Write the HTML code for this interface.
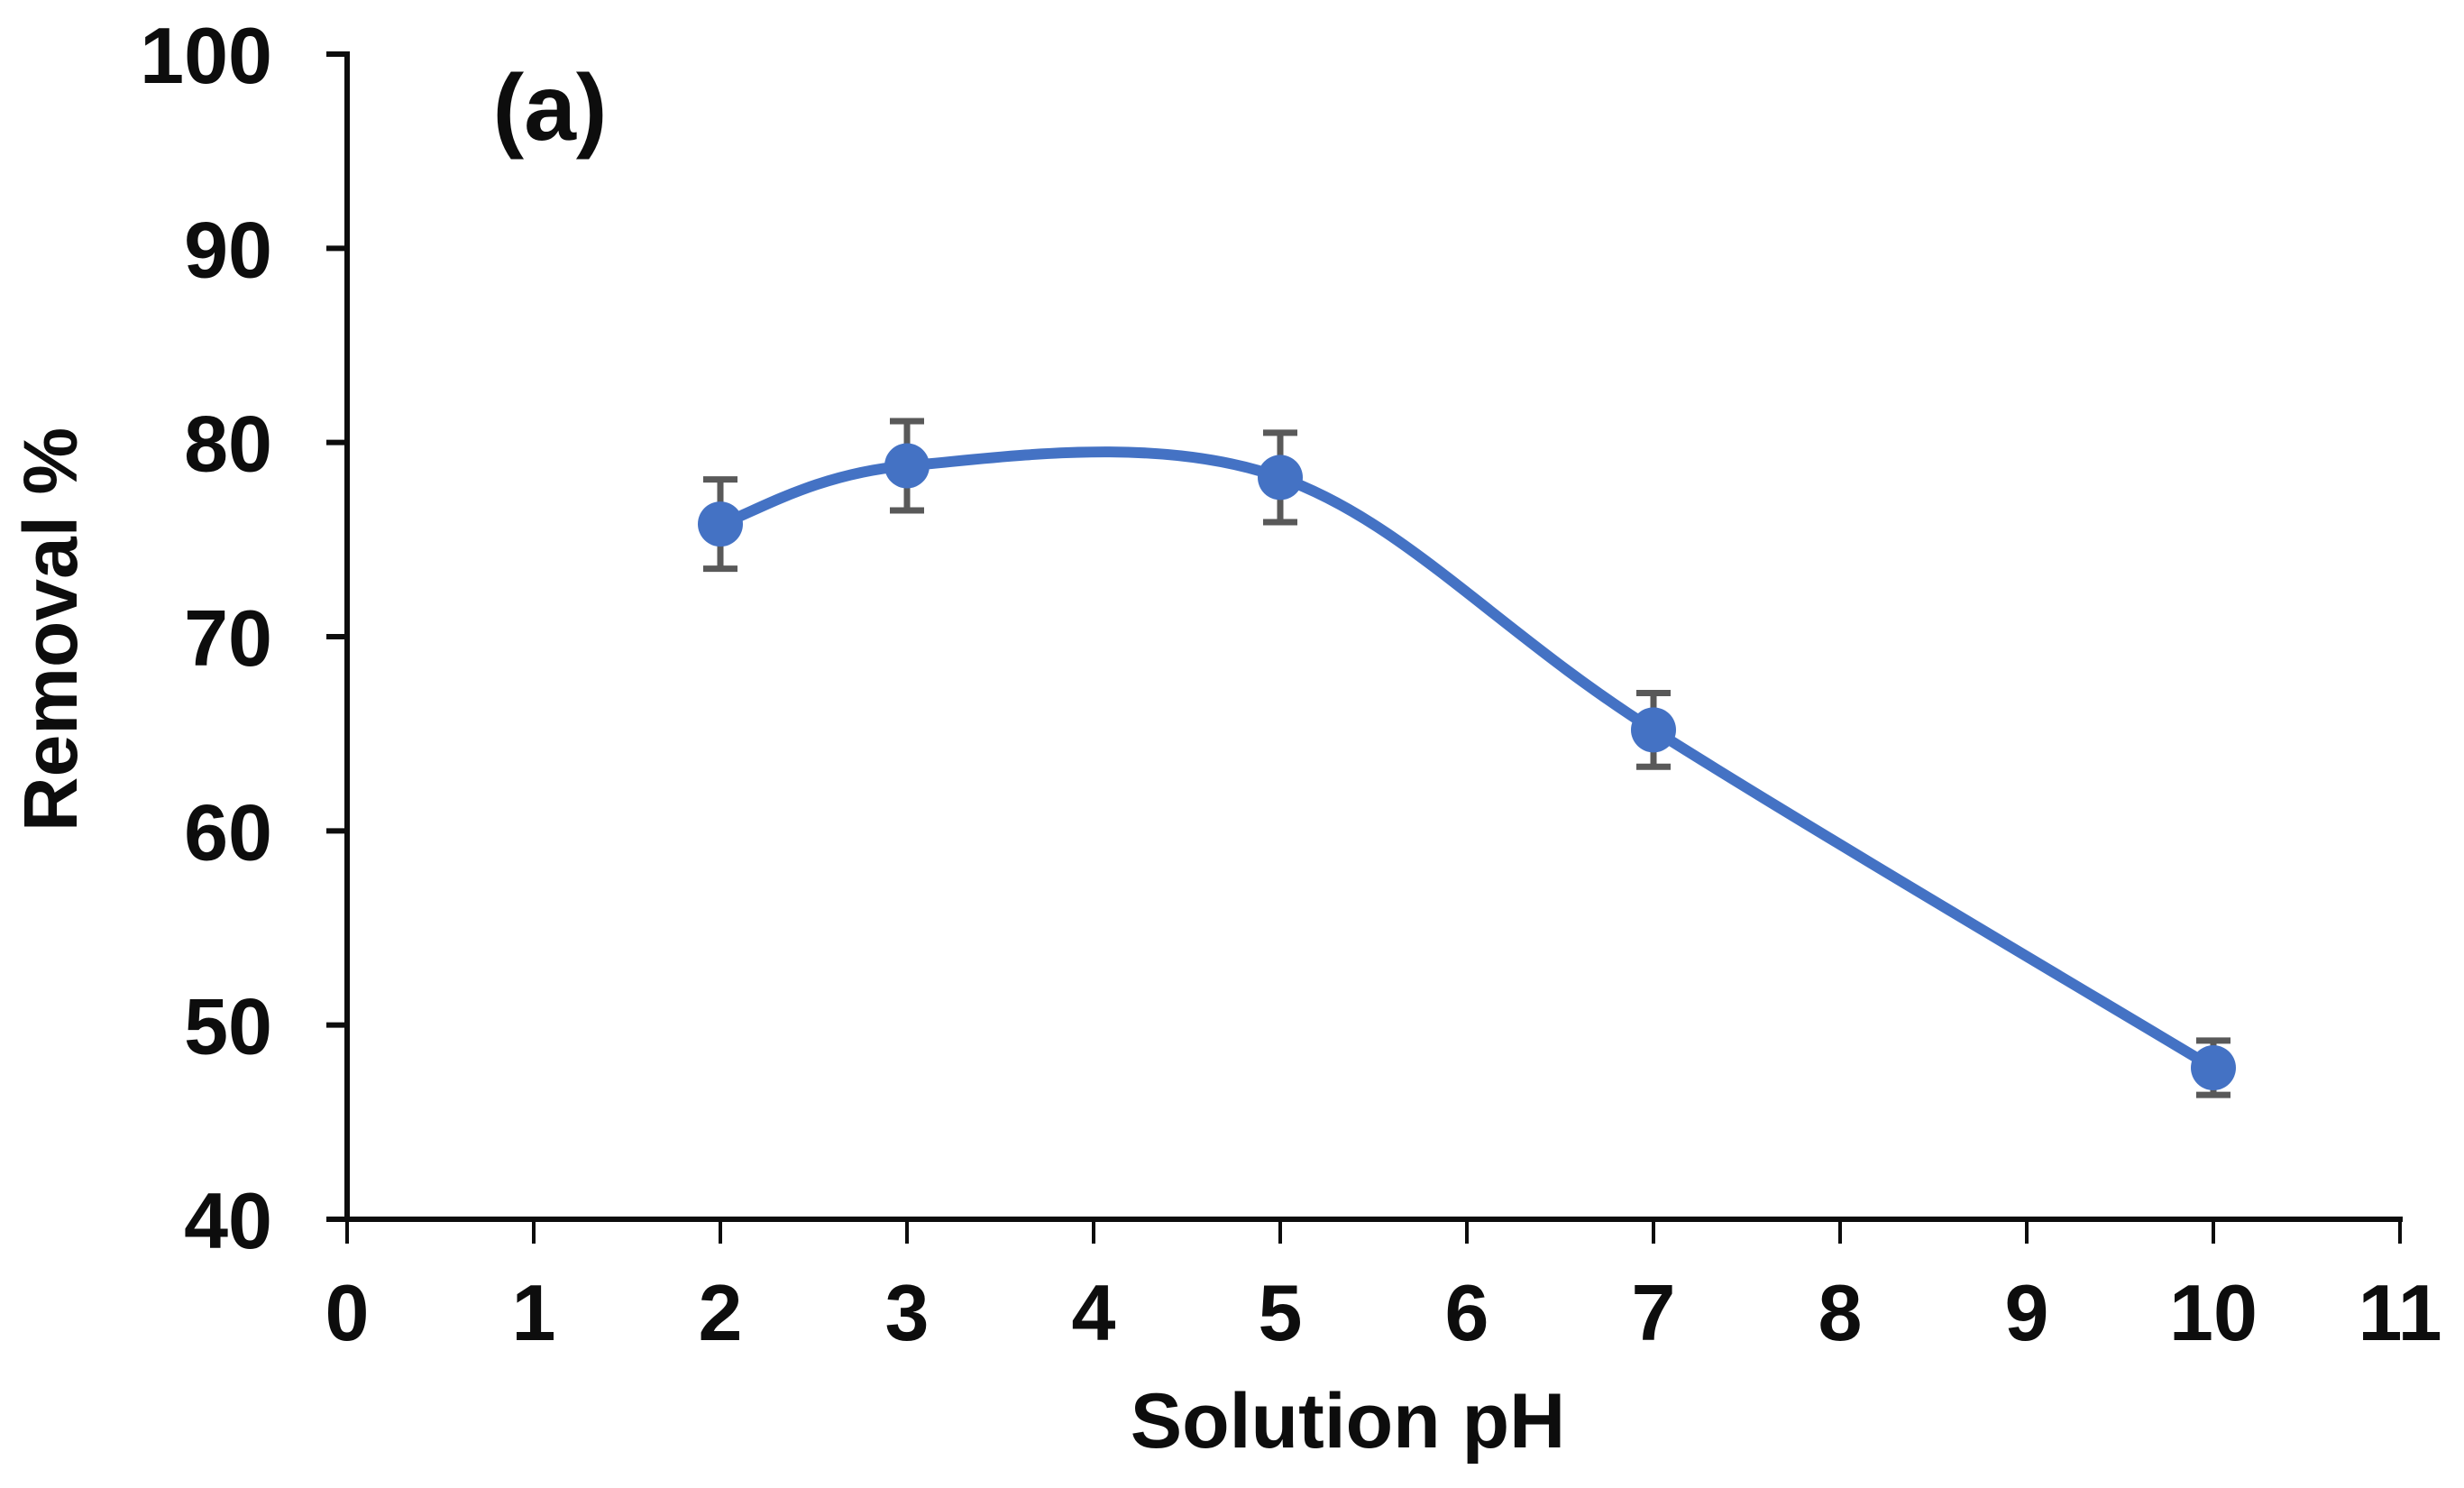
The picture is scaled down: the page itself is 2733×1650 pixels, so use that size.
<!DOCTYPE html>
<html><head><meta charset="utf-8"><style>
html,body{margin:0;padding:0;background:#fff;}
svg{display:block;}
text{font-family:"Liberation Sans",Arial,sans-serif;font-weight:bold;fill:#0d0d0d;}
</style></head><body>
<svg id="chart" width="2733" height="1650" viewBox="0 0 2733 1650">
<g id="axes"></g>
<g id="series"></g>
<text x="610" y="155" font-size="104" text-anchor="middle">(a)</text>
<text x="1495" y="1605" font-size="86" text-anchor="middle">Solution pH</text>
<text transform="translate(85,698) rotate(-90)" font-size="84" text-anchor="middle">Removal %</text>
</svg>
<script>
const phValues = [2, 3, 5, 7, 10];
const removalValues = [75.8, 78.8, 78.2, 65.2, 47.8];
const errorValues = [2.3, 2.3, 2.3, 1.9, 1.4];
const xTicks = [0,1,2,3,4,5,6,7,8,9,10,11];
const yTicks = [40,50,60,70,80,90,100];

const NS = "http://www.w3.org/2000/svg";
const X0 = 385, XU = 207, Y0 = 1352, YTOP = 60;
function xs(v){ return X0 + v*XU; }
function ys(v){ return Y0 - (v-40)/(100-40)*(Y0-YTOP); }
function mk(tag, attrs, parent){
  const e = document.createElementNS(NS, tag);
  for (const k in attrs) e.setAttribute(k, attrs[k]);
  parent.appendChild(e);
  return e;
}
const axes = document.getElementById('axes');
const series = document.getElementById('series');

let l = mk('line', {x1:X0, y1:YTOP-3, x2:X0, y2:Y0, stroke:'#0d0d0d','stroke-width':6}, axes);


l = mk('line', {x1:X0-20, y1:Y0, x2:xs(11)+3, y2:Y0, stroke:'#0d0d0d','stroke-width':6}, axes);



yTicks.forEach(t => {
  const y = ys(t);
  const tk = mk('line', {x1:X0-23, y1:y, x2:X0, y2:y, stroke:'#0d0d0d','stroke-width':6}, axes);
  
  
  const tx = mk('text', {x:302, y:y+32, 'font-size':88, 'text-anchor':'end'}, axes);
  tx.textContent = t;
  
  
});
xTicks.forEach(t => {
  const x = xs(t);
  const tk = mk('line', {x1:x, y1:Y0, x2:x, y2:Y0+27, stroke:'#0d0d0d','stroke-width':4}, axes);
  
  
  const tx = mk('text', {x:x, y:1486, 'font-size':88, 'text-anchor':'middle'}, axes);
  tx.textContent = t;
  
  
});

const pts = phValues.map((p,i) => [xs(p), ys(removalValues[i])]);
let d = `M${pts[0][0]},${pts[0][1]}`;
const tension = 1/6;
for (let i=0;i<pts.length-1;i++){
  const p0 = pts[i-1]||pts[i], p1 = pts[i], p2 = pts[i+1], p3 = pts[i+2]||pts[i+1];
  const c1 = [p1[0]+(p2[0]-p0[0])*tension, p1[1]+(p2[1]-p0[1])*tension];
  const c2 = [p2[0]-(p3[0]-p1[0])*tension, p2[1]-(p3[1]-p1[1])*tension];
  d += ` C${c1[0]},${c1[1]} ${c2[0]},${c2[1]} ${p2[0]},${p2[1]}`;
}
const path = mk('path', {d:d, fill:'none', stroke:'#4472C4','stroke-width':12,'stroke-linecap':'round'}, series);



phValues.forEach((p,i) => {
  const x = xs(p), yt = ys(removalValues[i]+errorValues[i]), yb = ys(removalValues[i]-errorValues[i]);
  const g = mk('g', {}, series);
  
  
  mk('line', {x1:x, y1:yt, x2:x, y2:yb, stroke:'#595959','stroke-width':7}, g);
  mk('line', {x1:x-19, y1:yt, x2:x+19, y2:yt, stroke:'#595959','stroke-width':7}, g);
  mk('line', {x1:x-19, y1:yb, x2:x+19, y2:yb, stroke:'#595959','stroke-width':7}, g);
});
phValues.forEach((p,i) => {
  const c = mk('circle', {cx:xs(p), cy:ys(removalValues[i]), r:25, fill:'#4472C4'}, series);
  
  
});
</script>
</body></html>
